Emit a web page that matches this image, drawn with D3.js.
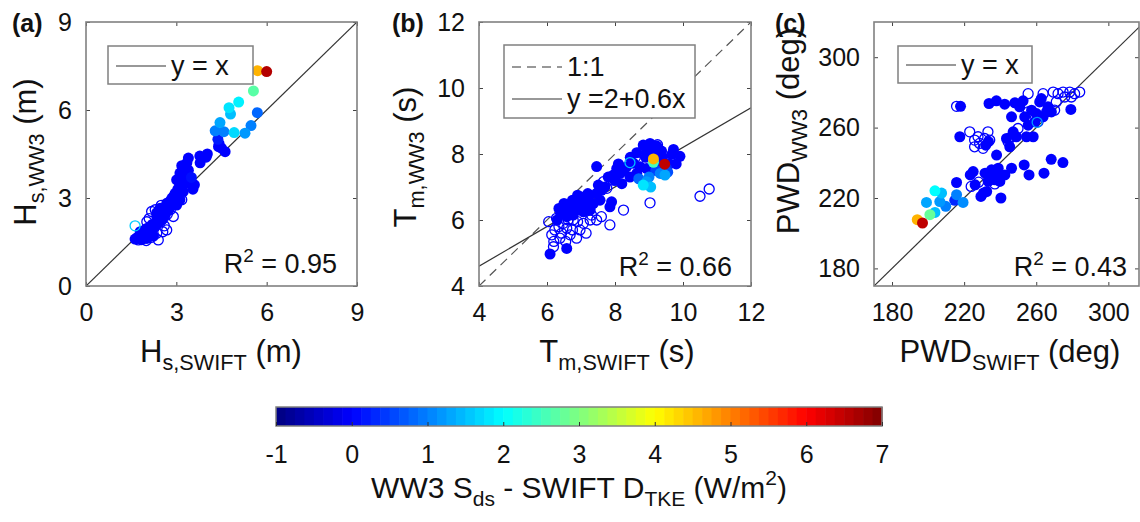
<!DOCTYPE html>
<html>
<head>
<meta charset="utf-8">
<script src="https://cdn.jsdelivr.net/npm/d3@7"></script>
<style>
  body { margin:0; background:#fff; }
  text { font-family: "Liberation Sans", Arial, sans-serif; fill:#111; }
</style>
</head>
<body>
<svg id="fig" width="1140" height="522"></svg>
<script>
// ---- data: [x, y, colour value] ----
var hsFilled = [
  [6.00,7.31,6.6],[5.70,7.34,4.6],[5.56,6.65,2.7],[5.07,6.27,1.9],[4.75,6.08,1.8],[4.80,5.86,1.5],
  [4.45,5.57,1.3],[4.29,5.29,1.0],[4.58,5.26,1.0],[4.92,5.23,1.7],[5.28,5.21,1.2],[5.48,5.47,1.0],
  [5.69,5.91,0.8],[4.38,5.00,0.2],[4.42,4.85,0],[4.50,4.70,0],[4.62,4.58,0],[4.40,4.75,0],
  [4.03,4.50,0],[3.78,4.43,0],[3.99,4.39,0],[3.79,4.20,0],[3.40,4.36,0],[3.18,4.10,0],
  [3.29,4.07,0],[3.12,3.85,0],[3.35,3.62,0],[3.01,3.62,0],[3.18,3.39,0],[3.45,3.62,0],
  [3.23,3.22,0],[2.96,3.16,0],[3.12,2.94,0],[2.85,2.99,0],[2.68,2.82,0],[3.01,2.76,0],
  [2.74,2.59,0],[2.46,2.65,0],[2.63,2.42,0],[2.35,2.37,0],[2.52,2.25,0],[2.29,2.02,0],
  [2.13,1.91,0],[1.96,1.79,0],[1.79,1.68,0],[1.63,1.60,0],[2.02,1.62,0],[2.24,1.70,0],
  [1.85,1.58,0],[1.70,1.65,0],[3.25,3.80,0],[3.30,3.50,0],[3.05,3.30,0],[2.90,2.85,0],
  [2.55,2.50,0],[2.40,2.15,0],[2.05,1.85,0],[3.35,4.20,0],[3.10,3.55,0],[2.80,2.70,0],
  [3.40,3.95,0],[3.50,3.70,0.1],[3.60,3.45,0],[3.55,3.30,0],[1.75,1.62,0],[1.90,1.75,0],
  [2.10,2.00,0],[2.20,2.10,0],[2.45,2.40,0],[2.60,2.60,0],[2.75,2.80,0],[2.90,3.05,0],
  [3.05,3.10,0],[3.20,3.60,0],[3.30,3.90,0],[2.35,2.50,0],[2.00,1.95,0],[1.80,1.85,0]
];
var hsOpen = [
  [1.63,2.05,1.6],[1.74,1.57,0],[2.02,2.19,0],[2.18,2.54,0],[2.35,1.80,0],[2.68,1.91,0],
  [2.40,1.57,0],[2.18,1.80,0],[2.57,2.31,0],[2.79,2.88,0],[2.90,2.37,0],[3.18,2.94,0],
  [1.90,1.70,0],[2.10,2.30,0],[2.30,2.60,0],[2.50,2.75,0],[2.00,1.55,0],[2.60,2.05,0],
  [1.85,1.60,0],[2.25,2.00,0],[2.45,2.20,0],[2.70,2.45,0],[2.15,1.65,0],[1.95,1.90,0],
  [2.55,1.85,0],[2.80,2.60,0]
];
var tmFilled = [
  [6.09,4.97,0],[6.58,5.14,0],[6.48,6.30,0],[6.68,6.40,0],[6.87,6.30,0],[7.07,6.25,0],
  [6.97,6.45,0],[7.17,6.50,0],[7.36,6.50,0],[6.77,6.15,0],[6.58,6.10,0],[7.27,6.30,0],
  [7.56,6.60,0],[7.46,6.81,0],[7.85,6.40,0],[7.90,6.55,0],[7.46,7.62,0],[7.51,7.06,0],
  [7.95,7.36,0],[8.15,7.41,0],[8.25,7.51,0],[8.44,7.30,0],[8.64,7.41,0],[8.34,7.61,0],
  [8.54,7.72,0],[8.74,7.61,0],[8.93,7.56,0],[8.05,7.56,0],[8.83,8.27,0],[9.03,8.32,0],
  [9.23,8.24,0],[8.93,8.09,0],[8.64,8.04,0],[9.13,8.04,0],[9.37,8.09,0],[9.67,7.99,0],
  [9.91,7.93,0],[9.72,8.14,0],[9.52,7.56,0.3],[9.33,7.61,0.2],[8.83,7.06,1.8],[8.93,7.16,1.2],
  [9.33,7.41,1.0],[9.47,7.36,1.3],[9.13,7.85,4.6],[9.13,7.75,2.5],[9.46,7.69,6.5],[7.20,6.80,0],
  [7.70,7.00,0],[8.00,7.20,0],[8.20,7.10,0],[9.60,7.70,0],[9.20,7.50,0.5],[8.70,7.25,0.8],
  [9.00,7.30,1.0],[6.40,6.20,0],[6.30,6.00,0],[7.00,6.70,0],[6.50,6.50,0],[6.75,6.60,0],
  [6.90,6.75,0],[7.25,6.75,0],[7.60,6.90,0],[7.80,7.30,0],[8.10,7.70,0],[8.45,7.90,0],
  [8.90,7.90,0],[9.40,7.90,0],[9.80,7.70,0],[9.55,7.45,0.6],[9.05,7.00,1.5],[6.35,6.35,0]
];
var tmOpen = [
  [6.19,5.19,0],[6.28,6.05,0],[6.48,5.90,0],[6.23,5.70,0],[6.43,5.60,0],[6.68,5.55,0],
  [6.87,5.45,0],[6.97,5.70,0],[6.77,6.00,0],[7.07,5.90,0],[7.27,6.00,0],[7.46,6.00,0],
  [7.31,6.15,0],[6.58,5.75,0],[6.14,5.55,0],[6.38,5.45,0],[7.85,5.85,0],[8.25,6.30,0],
  [9.03,6.52,0],[10.50,6.72,0],[10.77,6.94,0],[7.17,6.70,0],[7.66,7.16,0],[7.76,6.96,0],
  [7.95,7.21,0],[8.44,7.74,1.5],[8.75,8.05,0],[9.25,8.28,0],[8.60,7.90,0],[6.05,5.95,0],
  [6.20,5.35,0],[6.55,5.35,0],[6.75,5.70,0],[6.90,5.95,0],[7.15,5.60,0],[6.35,5.80,0],
  [6.62,6.00,0],[7.60,6.10,0]
];
var pwdFilled = [
  [194.0,207.7,4.6],[196.9,205.8,6.5],[201.0,210.5,2.8],[203.8,211.8,1.5],[199.1,217.5,1.3],
  [203.8,224.1,2.0],[207.5,222.8,1.5],[206.5,218.0,1.2],[209.8,215.3,1.0],[215.8,221.9,1.0],
  [219.4,217.5,1.1],[214.8,218.7,0.3],[215.8,228.8,0],[217.6,254.8,0],[218.0,272.1,0],
  [223.4,233.1,0],[226.1,227.5,0],[230.7,222.8,0],[229.3,220.9,0],[232.5,223.7,0],
  [233.4,229.4,0],[231.6,234.1,0],[235.2,236.0,0],[238.0,234.1,0],[236.1,232.2,0],
  [234.3,233.1,0],[238.9,236.9,0],[240.8,233.1,0],[237.1,230.3,0],[239.8,229.4,0],
  [242.6,233.1,0],[246.3,236.9,0],[238.0,244.4,0],[240.4,220.0,0],[253.3,238.8,0],
  [256.0,233.1,0],[264.3,234.1,0],[268.3,242.0,0],[274.8,240.1,0],[243.5,253.8,0],
  [245.3,249.1,0],[247.2,257.6,0],[249.0,254.8,0],[254.6,254.8,0],[258.3,254.8,0],
  [259.2,263.3,0],[255.5,261.4,0],[233.8,273.7,0],[237.9,275.2,0],[242.5,273.3,0],
  [248.1,274.1,0],[252.7,275.2,0],[250.8,271.8,0],[261.9,274.6,0],[262.8,276.5,0],
  [246.3,266.1,0],[253.6,266.1,0],[257.4,269.9,0],[260.1,268.0,0],[265.7,268.9,0],
  [266.5,271.8,0],[268.4,268.9,0],[263.8,266.1,0],[279.2,270.3,0],[233.5,252.0,0],
  [232.0,250.0,0],[225.0,235.0,0]
];
var pwdOpen = [
  [215.8,272.1,0],[223.1,257.6,0],[225.8,252.9,0],[228.6,251.0,0],[231.4,253.8,0],
  [233.2,257.6,0],[225.8,249.1,0],[230.5,248.2,0],[234.2,252.9,0],[227.7,254.8,0],
  [246.3,254.8,0],[244.4,251.9,0],[249.9,259.5,0],[259.2,267.0,0],[255.5,268.9,0],
  [261.0,263.3,0],[270.2,269.9,0],[271.1,274.6,0],[255.5,279.3,0],[263.8,279.3,0],
  [269.4,280.2,0],[272.1,279.3,0],[274.9,280.2,0],[278.6,280.2,0],[281.3,279.3,0],
  [284.1,280.2,0],[275.8,277.4,0],[279.5,277.4,0],[223.9,226.6,0],[237.0,228.0,0],
  [228.0,229.0,0],[260.5,263.0,1.2]
];
var ticksA = [0,3,6,9];
var ticksB = [4,6,8,10,12];
var ticksC = [180,220,260,300];
var cbarTicks = [-1,0,1,2,3,4,5,6,7];
var fitB = [2.2, 0.6]; // drawn fit line (intercept, slope)
var r2Labels = ["0.95","0.66","0.43"];

var svg = d3.select("#fig");
var clr = "#808080";
var plain = function (d) { return String(d); };

function jet(t) {
  t = Math.max(0, Math.min(1, t));
  var f = function (v) { return Math.round(255 * Math.max(0, Math.min(1, v))); };
  return d3.rgb(f(1.5 - Math.abs(4*t - 3)), f(1.5 - Math.abs(4*t - 2)), f(1.5 - Math.abs(4*t - 1)));
}
var cNorm = d3.scaleLinear().domain([-1, 7]).range([0, 1]);
function colorOf(v) { return jet(cNorm(v)); }

// text with sub/superscripts
function rich(sel, parts, size) {
  var shift = 0;
  parts.forEach(function (p) {
    var target = p.sub ? size*0.27 : p.sup ? -size*0.42 : 0;
    var ts = sel.append("tspan").text(p.t).attr("dy", target - shift);
    if (p.sub || p.sup) ts.attr("font-size", size*0.7);
    shift = target;
  });
}

var panels = [
  {id:"a", x0:86, x1:357, xd:[0,9], yd:[0,9], ticks:ticksA, filled:hsFilled, open:hsOpen, lx:12,
   ylab:[{t:"H"},{t:"s,WW3",sub:true},{t:" (m)"}], ylx:36, yly:152,
   xlab:[{t:"H"},{t:"s,SWIFT",sub:true},{t:" (m)"}], xlx:221, r2x:337, r2y:273},
  {id:"b", x0:479, x1:751, xd:[4,12], yd:[4,12], ticks:ticksB, filled:tmFilled, open:tmOpen, lx:392,
   ylab:[{t:"T"},{t:"m,WW3",sub:true},{t:" (s)"}], ylx:416, yly:157,
   xlab:[{t:"T"},{t:"m,SWIFT",sub:true},{t:" (s)"}], xlx:617, r2x:732, r2y:276},
  {id:"c", x0:874, x1:1139, xd:[170,317], yd:[170,320], ticks:ticksC, filled:pwdFilled, open:pwdOpen, lx:775,
   ylab:[{t:"PWD"},{t:"WW3",sub:true},{t:" (deg)"}], ylx:799, yly:131,
   xlab:[{t:"PWD"},{t:"SWIFT",sub:true},{t:" (deg)"}], xlx:1010, r2x:1127, r2y:276}
];
var y0 = 22, y1 = 286;

panels.forEach(function (p, i) {
  var x = d3.scaleLinear().domain(p.xd).range([p.x0, p.x1]);
  var y = d3.scaleLinear().domain(p.yd).range([y1, y0]);
  var g = svg.append("g");

  g.append("clipPath").attr("id", "clip" + p.id)
    .append("rect").attr("x", p.x0).attr("y", y0).attr("width", p.x1 - p.x0).attr("height", y1 - y0);

  // axes with inner ticks on all sides
  g.append("g").attr("transform", "translate(0," + y1 + ")")
    .call(d3.axisBottom(x).tickValues(p.ticks).tickFormat(plain).tickSizeInner(-4).tickSizeOuter(0).tickPadding(17));
  g.append("g").attr("transform", "translate(0," + y0 + ")")
    .call(d3.axisTop(x).tickValues(p.ticks).tickSizeInner(-4).tickSizeOuter(0).tickFormat(""));
  g.append("g").attr("transform", "translate(" + p.x0 + ",0)")
    .call(d3.axisLeft(y).tickValues(p.ticks).tickFormat(plain).tickSizeInner(-4).tickSizeOuter(0).tickPadding(14));
  g.append("g").attr("transform", "translate(" + p.x1 + ",0)")
    .call(d3.axisRight(y).tickValues(p.ticks).tickSizeInner(-4).tickSizeOuter(0).tickFormat(""));
  g.selectAll(".domain").remove();
  g.selectAll(".tick line").attr("stroke", "#444");
  g.selectAll(".tick text").attr("font-size", 25).attr("fill", "#111")
    .style("font-family", '"Liberation Sans", Arial, sans-serif');

  var plot = g.append("g").attr("clip-path", "url(#clip" + p.id + ")");

  // reference lines
  if (p.id === "b") {
    plot.append("line").attr("x1", x(4)).attr("y1", y(4)).attr("x2", x(12)).attr("y2", y(12))
      .attr("stroke", "#555").attr("stroke-width", 1.2).attr("stroke-dasharray", "9,6");
    plot.append("line").attr("x1", x(4)).attr("y1", y(fitB[0] + fitB[1]*4))
      .attr("x2", x(12)).attr("y2", y(fitB[0] + fitB[1]*12))
      .attr("stroke", "#333").attr("stroke-width", 1.2);
  } else {
    plot.append("line").attr("x1", x(p.xd[0])).attr("y1", y(p.xd[0]))
      .attr("x2", x(p.yd[1])).attr("y2", y(p.yd[1]))
      .attr("stroke", "#333").attr("stroke-width", 1.2);
  }

  // points: open first, then filled, higher values on top
  var pts = p.open.map(function (d) { return {x:d[0], y:d[1], c:d[2], open:true}; })
    .concat(p.filled.map(function (d) { return {x:d[0], y:d[1], c:d[2], open:false}; }));
  pts.sort(function (a, b) { return a.c - b.c; });
  plot.selectAll("circle").data(pts).enter().append("circle")
    .attr("cx", function (d) { return x(d.x); })
    .attr("cy", function (d) { return y(d.y); })
    .attr("r", function (d) { return d.open ? 5 : 5.5; })
    .attr("fill", function (d) { return d.open ? "none" : colorOf(d.c); })
    .attr("stroke", function (d) { return d.open ? colorOf(d.c) : "none"; })
    .attr("stroke-width", 1.3);

  // box
  g.append("rect").attr("x", p.x0).attr("y", y0).attr("width", p.x1 - p.x0).attr("height", y1 - y0)
    .attr("fill", "none").attr("stroke", clr).attr("stroke-width", 1.6);

  // panel label
  g.append("text").attr("x", p.lx).attr("y", 32).attr("font-size", 25).attr("font-weight", "bold")
    .text("(" + p.id + ")");

  // axis titles
  var xt = g.append("text").attr("x", p.xlx).attr("y", 362).attr("text-anchor", "middle").attr("font-size", 31);
  rich(xt, p.xlab, 31);
  var yt = g.append("text").attr("transform", "translate(" + p.ylx + "," + p.yly + ") rotate(-90)")
    .attr("text-anchor", "middle").attr("font-size", 31);
  rich(yt, p.ylab, 31);

  // R^2
  var rt = g.append("text").attr("x", p.r2x).attr("y", p.r2y).attr("text-anchor", "end").attr("font-size", 27);
  rich(rt, [{t:"R"},{t:"2",sup:true},{t:" = " + r2Labels[i]}], 27);
});

// legends
function legend(bx, by, bw, bh, rows) {
  var g = svg.append("g");
  g.append("rect").attr("x", bx).attr("y", by).attr("width", bw).attr("height", bh)
    .attr("fill", "#fff").attr("stroke", clr).attr("stroke-width", 1.5);
  rows.forEach(function (r) {
    g.append("line").attr("x1", bx + 8).attr("x2", bx + 58).attr("y1", r.y).attr("y2", r.y)
      .attr("stroke", "#333").attr("stroke-width", 1.2).attr("stroke-dasharray", r.dash || null);
    g.append("text").attr("x", bx + 63).attr("y", r.y + 9).attr("font-size", 27).text(r.t);
  });
}
legend(108, 46, 145, 38, [{y:66, t:"y = x"}]);
legend(504, 45, 191, 73, [{y:67, t:"1:1", dash:"9,6"}, {y:99, t:"y =2+0.6x"}]);
legend(898, 46, 134, 37, [{y:65, t:"y = x"}]);

// colorbar
var cb = d3.scaleLinear().domain([-1, 7]).range([276, 882]);
var cbY = 407, cbH = 19, nBins = 64;
var bins = d3.range(nBins);
svg.append("g").selectAll("rect").data(bins).enter().append("rect")
  .attr("x", function (d) { return cb(-1 + 8*d/nBins); })
  .attr("y", cbY)
  .attr("width", (882 - 276)/nBins + 0.6)
  .attr("height", cbH)
  .attr("fill", function (d) { return jet((d + 0.5)/nBins); });
svg.append("rect").attr("x", 276).attr("y", cbY).attr("width", 606).attr("height", cbH)
  .attr("fill", "none").attr("stroke", clr).attr("stroke-width", 1.5);
var cbAxis = svg.append("g").attr("transform", "translate(0," + (cbY + cbH) + ")")
  .call(d3.axisBottom(cb).tickValues(cbarTicks).tickFormat(plain).tickSizeInner(-4).tickSizeOuter(0).tickPadding(19));
cbAxis.select(".domain").remove();
cbAxis.selectAll(".tick line").attr("stroke", "#333");
cbAxis.selectAll(".tick text").attr("font-size", 25).attr("fill", "#111")
  .style("font-family", '"Liberation Sans", Arial, sans-serif');
var cbt = svg.append("text").attr("x", 579).attr("y", 498).attr("text-anchor", "middle").attr("font-size", 30);
rich(cbt, [{t:"WW3 S"},{t:"ds",sub:true},{t:" - SWIFT D"},{t:"TKE",sub:true},{t:" (W/m"},{t:"2",sup:true},{t:")"}], 30);
</script>
</body>
</html>
